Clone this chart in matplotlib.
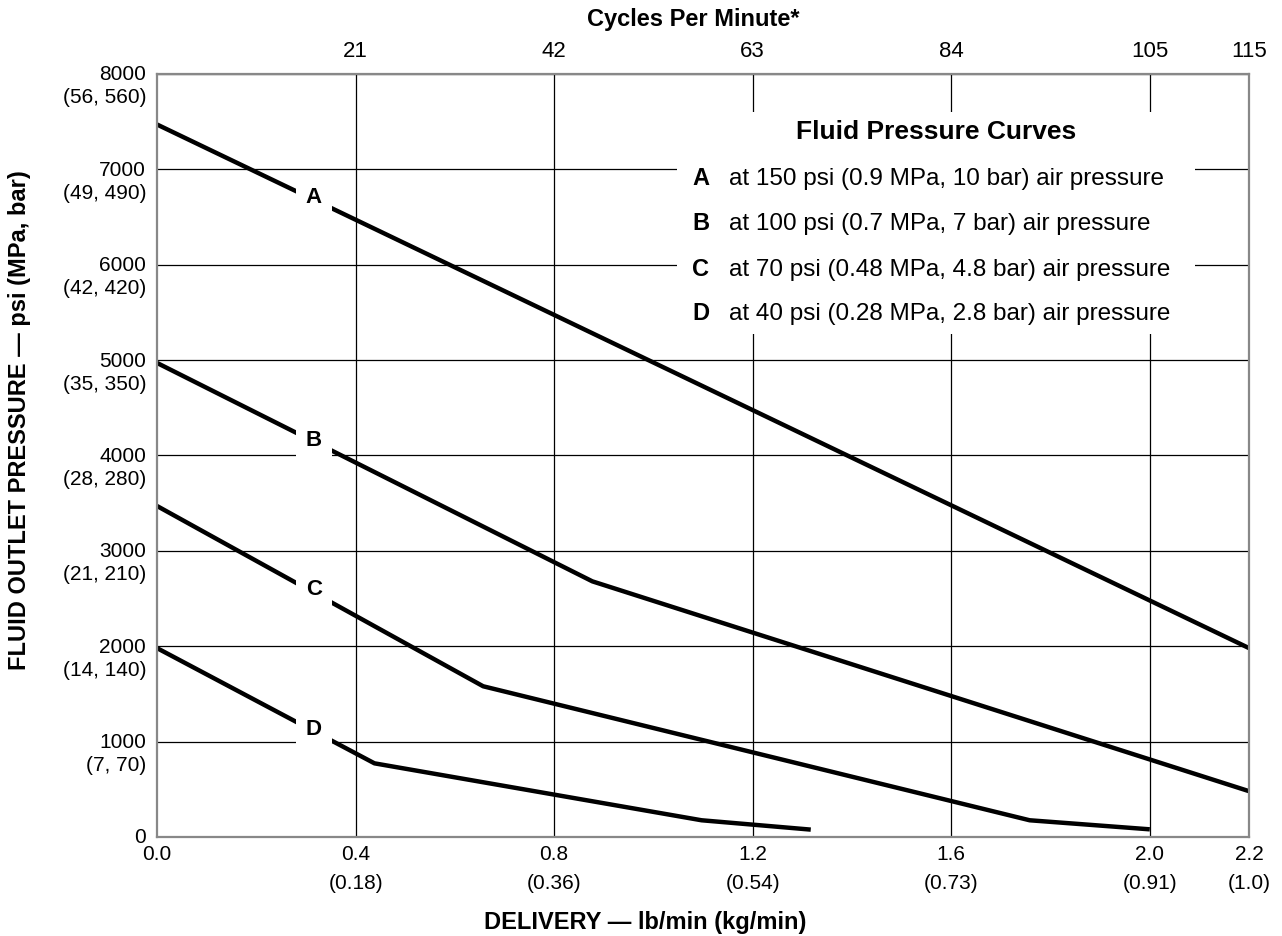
import matplotlib.pyplot as plt
from matplotlib.patches import Rectangle

plt.rcParams['font.family'] = ['Liberation Sans', 'DejaVu Sans']

# delivery in lb/min, fluid outlet pressure in psi
delivery_a = [0.0, 2.2]
pressure_a = [7470, 1980]
delivery_b = [0.0, 0.877, 2.2]
pressure_b = [4970, 2680, 480]
delivery_c = [0.0, 0.657, 1.758, 2.0]
pressure_c = [3470, 1580, 175, 80]
delivery_d = [0.0, 0.438, 1.097, 1.317]
pressure_d = [1980, 772, 175, 77]

curve_names = ['A', 'B', 'C', 'D']
curve_label_x = [0.316, 0.316, 0.316, 0.316]
curve_label_y = [6716, 4165, 2608, 1133]
legend_text = ['at 150 psi (0.9 MPa, 10 bar) air pressure',
               'at 100 psi (0.7 MPa, 7 bar) air pressure',
               'at 70 psi (0.48 MPa, 4.8 bar) air pressure',
               'at 40 psi (0.28 MPa, 2.8 bar) air pressure']

x_ticks = [0.0, 0.4, 0.8, 1.2, 1.6, 2.0, 2.2]
x_tick_labels = ['0.0', '0.4', '0.8', '1.2', '1.6', '2.0', '2.2']
x_sub_labels = ['', '(0.18)', '(0.36)', '(0.54)', '(0.73)', '(0.91)', '(1.0)']
y_ticks = [0, 1000, 2000, 3000, 4000, 5000, 6000, 7000, 8000]
y_tick_labels = ['0', '1000', '2000', '3000', '4000', '5000', '6000', '7000', '8000']
y_sub_labels = ['', '(7, 70)', '(14, 140)', '(21, 210)', '(28, 280)', '(35, 350)',
                '(42, 420)', '(49, 490)', '(56, 560)']
cpm_ticks = [0.4, 0.8, 1.2, 1.6, 2.0, 2.2]
cpm_labels = ['21', '42', '63', '84', '105', '115']

fig = plt.figure(figsize=(12.82, 9.37), dpi=100)
ax = fig.add_axes([0.1225, 0.1057, 0.8518, 0.8143])

for xs, ys in [(delivery_a, pressure_a), (delivery_b, pressure_b),
               (delivery_c, pressure_c), (delivery_d, pressure_d)]:
    ax.plot(xs, ys, color='black', lw=3.2, solid_capstyle='butt', zorder=2)

for name, lx, ly in zip(curve_names, curve_label_x, curve_label_y):
    ax.text(lx, ly, name, fontsize=16, fontweight='bold', ha='center', va='center',
            zorder=3, bbox=dict(boxstyle='square,pad=0.45', fc='white', ec='none'))

ax.set_xlim(0, 2.2)
ax.set_ylim(0, 8000)
ax.set_axisbelow(True)
ax.grid(True, color='black', lw=0.9)
ax.set_xticks([0.4, 0.8, 1.2, 1.6, 2.0])
ax.set_yticks(y_ticks)
ax.xaxis.set_ticklabels([])
ax.yaxis.set_ticklabels([])
ax.tick_params(length=0)
for sp in ax.spines.values():
    sp.set_color('#888888')
    sp.set_linewidth(1.6)

# two-line tick labels
for xv, lab, sub in zip(x_ticks, x_tick_labels, x_sub_labels):
    ax.annotate(lab, (xv, 0), xycoords=('data', 'axes fraction'), xytext=(0, -17),
                textcoords='offset pixels', ha='center', va='center', fontsize=15,
                annotation_clip=False)
    if sub:
        ax.annotate(sub, (xv, 0), xycoords=('data', 'axes fraction'), xytext=(0, -46),
                    textcoords='offset pixels', ha='center', va='center', fontsize=15,
                    annotation_clip=False)
for yv, lab, sub in zip(y_ticks, y_tick_labels, y_sub_labels):
    ax.annotate(lab, (0, yv), xycoords=('axes fraction', 'data'), xytext=(-11, 0),
                textcoords='offset pixels', ha='right', va='center', fontsize=15,
                annotation_clip=False)
    if sub:
        ax.annotate(sub, (0, yv), xycoords=('axes fraction', 'data'), xytext=(-11, -23),
                    textcoords='offset pixels', ha='right', va='center', fontsize=15,
                    annotation_clip=False)

# top axis: cycles per minute
top = ax.twiny()
top.set_xlim(ax.get_xlim())
top.set_xticks(cpm_ticks)
top.set_xticklabels(cpm_labels, fontsize=16)
top.tick_params(length=0, pad=9)
for sp in top.spines.values():
    sp.set_visible(False)
fig.text(0.541, 0.979, 'Cycles Per Minute*', ha='center', va='center', fontsize=17,
         fontweight='bold')

# legend box
ax.add_patch(Rectangle((1.048, 5275), 2.091 - 1.048, 7602 - 5275, fc='white', ec='none', zorder=1))
ax.text(1.569, 7403, 'Fluid Pressure Curves', fontsize=19, fontweight='bold',
        ha='center', va='center', zorder=3)
legend_y = [6910, 6438, 5956, 5495]
for name, txt, ly in zip(curve_names, legend_text, legend_y):
    ax.text(1.078, ly, name, fontsize=17, fontweight='bold', ha='left', va='center', zorder=3)
    ax.text(1.153, ly, txt, fontsize=17.5, ha='left', va='center', zorder=3)

fig.text(0.503, 0.016, 'DELIVERY \u2014 lb/min (kg/min)', ha='center', va='center',
         fontsize=17, fontweight='bold')
fig.text(0.015, 0.552, 'FLUID OUTLET PRESSURE \u2014 psi (MPa, bar)', ha='center', va='center',
         rotation=90, fontsize=17, fontweight='bold')

fig.savefig('out.png', dpi=100)
